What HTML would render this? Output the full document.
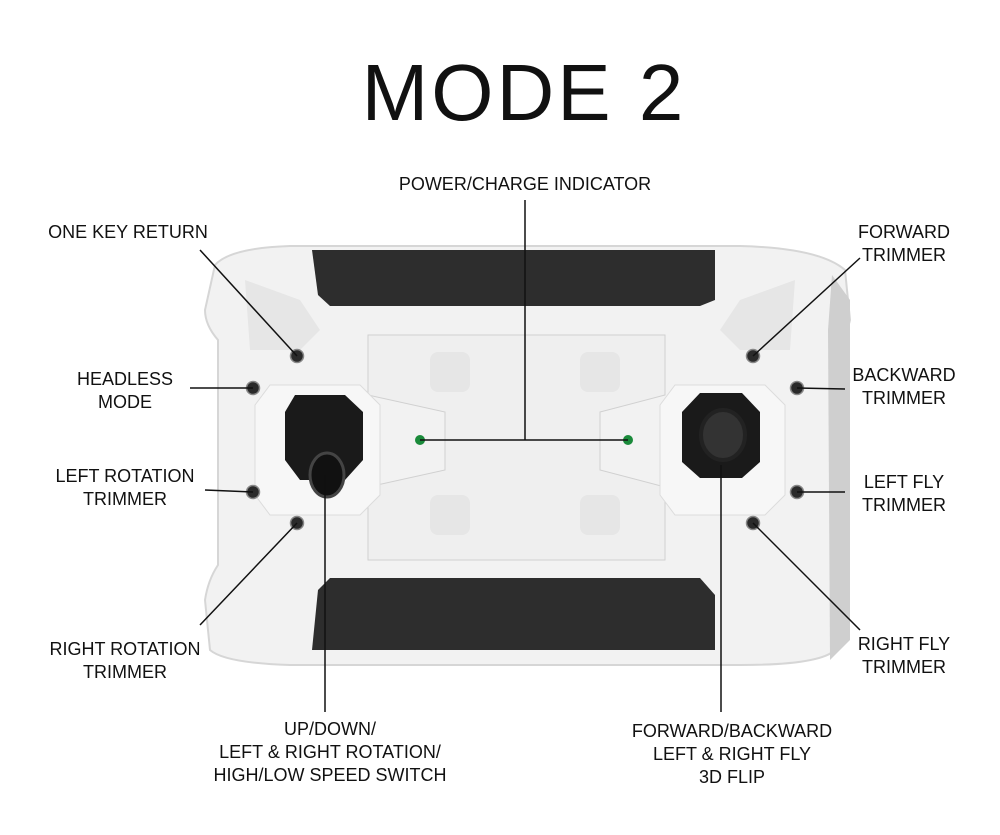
<!DOCTYPE html>
<html><head><meta charset="utf-8"><style>
html,body{margin:0;padding:0;background:#fff;}
svg{display:block}
text{font-family:"Liberation Sans",sans-serif;fill:#111}
</style></head><body>
<svg width="1000" height="835" viewBox="0 0 1000 835">
<text x="524" y="120" font-size="80" text-anchor="middle" letter-spacing="3">MODE 2</text>
<!-- body -->
<path d="M215 265 Q230 248 290 246 L740 246 Q820 248 845 270 L850 320 Q848 330 838 340 L838 560 Q848 580 848 600 L835 650 Q820 665 740 665 L290 665 Q225 663 210 650 L205 600 Q208 580 218 565 L218 340 Q205 325 205 310 Z" fill="#f2f2f2" stroke="#d6d6d6" stroke-width="2"/>
<path d="M832 275 L850 300 L850 640 L830 660 L828 330 Z" fill="#cfcfcf"/>
<path d="M245 280 L300 300 L320 330 L300 350 L250 350 Z" fill="#e6e6e6"/>
<path d="M795 280 L740 300 L720 330 L740 350 L790 350 Z" fill="#e6e6e6"/>
<!-- dark bars -->
<path d="M312 250 L715 250 L715 300 L700 306 L330 306 L318 295 Z" fill="#2d2d2d"/>
<path d="M312 650 L715 650 L715 595 L700 578 L330 578 L318 590 Z" fill="#2d2d2d"/>
<!-- center tray -->
<path d="M368 335 L665 335 L665 395 L600 412 L600 470 L665 487 L665 560 L368 560 L368 487 L445 470 L445 412 L368 395 Z" fill="#efefef" stroke="#d0d0d0"/>
<rect x="430" y="352" width="40" height="40" rx="8" fill="#e6e6e6"/>
<rect x="580" y="352" width="40" height="40" rx="8" fill="#e6e6e6"/>
<rect x="430" y="495" width="40" height="40" rx="8" fill="#e6e6e6"/>
<rect x="580" y="495" width="40" height="40" rx="8" fill="#e6e6e6"/>
<!-- joystick surrounds -->
<path d="M270 385 L360 385 L380 405 L380 495 L360 515 L270 515 L255 495 L255 405 Z" fill="#f7f7f7" stroke="#dcdcdc"/>
<path d="M675 385 L765 385 L785 405 L785 495 L765 515 L675 515 L660 495 L660 405 Z" fill="#f7f7f7" stroke="#dcdcdc"/>
<!-- joysticks -->
<path d="M295 395 L345 395 L363 412 L363 460 L345 480 L300 480 L285 460 L285 412 Z" fill="#1a1a1a"/>
<ellipse cx="327" cy="475" rx="17" ry="22" fill="#111" stroke="#444" stroke-width="3"/>
<path d="M700 393 L742 393 L760 412 L760 462 L742 478 L700 478 L682 462 L682 412 Z" fill="#1a1a1a"/>
<ellipse cx="723" cy="435" rx="22" ry="25" fill="#333" stroke="#222" stroke-width="4"/>
<!-- buttons -->
<g fill="#2a2a2a" stroke="#888" stroke-width="1.5">
<circle cx="297" cy="356" r="6.5"/><circle cx="253" cy="388" r="6.5"/>
<circle cx="253" cy="492" r="6.5"/><circle cx="297" cy="523" r="6.5"/>
<circle cx="753" cy="356" r="6.5"/><circle cx="797" cy="388" r="6.5"/>
<circle cx="797" cy="492" r="6.5"/><circle cx="753" cy="523" r="6.5"/>
</g>
<circle cx="420" cy="440" r="5" fill="#1a8a3a"/><circle cx="628" cy="440" r="5" fill="#1a8a3a"/>
<!-- lines -->
<g stroke="#111" stroke-width="1.5" fill="none">
<line x1="525" y1="200" x2="525" y2="440"/>
<line x1="420" y1="440" x2="628" y2="440"/>
<line x1="200" y1="250" x2="297" y2="356"/>
<line x1="190" y1="388" x2="253" y2="388"/>
<line x1="205" y1="490" x2="253" y2="492"/>
<line x1="200" y1="625" x2="297" y2="523"/>
<line x1="325" y1="475" x2="325" y2="712"/>
<line x1="860" y1="258" x2="753" y2="356"/>
<line x1="845" y1="389" x2="797" y2="388"/>
<line x1="845" y1="492" x2="797" y2="492"/>
<line x1="860" y1="630" x2="753" y2="523"/>
<line x1="721" y1="465" x2="721" y2="712"/>
</g>
<!-- labels -->
<g font-size="18">
<text x="525" y="190" text-anchor="middle">POWER/CHARGE INDICATOR</text>
<text x="128" y="238" text-anchor="middle">ONE KEY RETURN</text>
<text x="125" y="385" text-anchor="middle">HEADLESS</text>
<text x="125" y="408" text-anchor="middle">MODE</text>
<text x="125" y="482" text-anchor="middle">LEFT ROTATION</text>
<text x="125" y="505" text-anchor="middle">TRIMMER</text>
<text x="125" y="655" text-anchor="middle">RIGHT ROTATION</text>
<text x="125" y="678" text-anchor="middle">TRIMMER</text>
<text x="330" y="735" text-anchor="middle">UP/DOWN/</text>
<text x="330" y="758" text-anchor="middle">LEFT &amp; RIGHT ROTATION/</text>
<text x="330" y="781" text-anchor="middle">HIGH/LOW SPEED SWITCH</text>
<text x="904" y="238" text-anchor="middle">FORWARD</text>
<text x="904" y="261" text-anchor="middle">TRIMMER</text>
<text x="904" y="381" text-anchor="middle">BACKWARD</text>
<text x="904" y="404" text-anchor="middle">TRIMMER</text>
<text x="904" y="488" text-anchor="middle">LEFT FLY</text>
<text x="904" y="511" text-anchor="middle">TRIMMER</text>
<text x="904" y="650" text-anchor="middle">RIGHT FLY</text>
<text x="904" y="673" text-anchor="middle">TRIMMER</text>
<text x="732" y="737" text-anchor="middle">FORWARD/BACKWARD</text>
<text x="732" y="760" text-anchor="middle">LEFT &amp; RIGHT FLY</text>
<text x="732" y="783" text-anchor="middle">3D FLIP</text>
</g>
</svg>
</body></html>
